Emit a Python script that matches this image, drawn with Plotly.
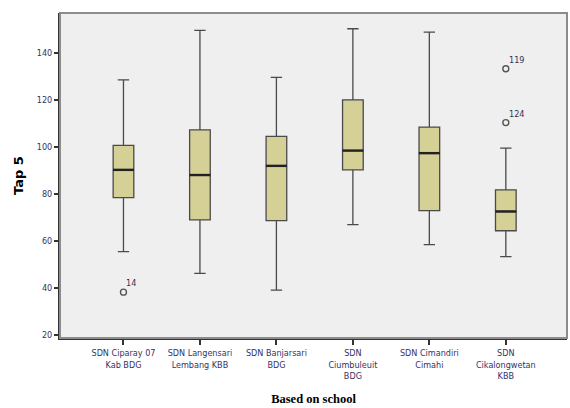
import plotly.graph_objects as go

categories = ["SDN Ciparay 07<br>Kab BDG", "SDN Langensari<br>Lembang KBB", "SDN Banjarsari<br>BDG",
              "SDN<br>Ciumbuleuit<br>BDG", "SDN Cimandiri<br>Cimahi", "SDN<br>Cikalongwetan<br>KBB"]
lower = [55.4, 46.2, 39.1, 66.9, 58.4, 53.3]
q1 = [78.4, 68.9, 68.6, 90.2, 72.9, 64.3]
median = [90.2, 88.0, 91.9, 98.4, 97.3, 72.5]
q3 = [100.6, 107.2, 104.4, 120.0, 108.4, 81.7]
upper = [128.5, 149.5, 129.5, 150.2, 148.8, 99.4]

outlier_cat = [categories[0], categories[5], categories[5]]
outlier_val = [38.2, 133.2, 110.3]
outlier_ids = ["14", "119", "124"]

y_ticks = [20, 40, 60, 80, 100, 120, 140]

tick_font = "Liberation Sans Narrow, Arial Narrow, DejaVu Sans Condensed, sans-serif"

fig = go.Figure()
fig.add_trace(go.Box(
    x=categories, q1=q1, median=median, q3=q3, lowerfence=lower, upperfence=upper,
    fillcolor="#d5d096", line=dict(color="#4a4a4a", width=1.3),
    width=0.27, whiskerwidth=0.55, boxpoints=False, showlegend=False, hoverinfo="skip"))
# thicker median lines
fig.add_trace(go.Scatter(
    x=categories, y=median, mode="markers",
    marker=dict(symbol="line-ew", size=15, line=dict(color="#222222", width=2.4)),
    showlegend=False, hoverinfo="skip"))
# outliers
fig.add_trace(go.Scatter(
    x=outlier_cat, y=outlier_val, mode="markers",
    marker=dict(symbol="circle-open", size=6, color="#555555", line=dict(width=1.4)),
    showlegend=False, hoverinfo="skip"))
for c, v, t in zip(outlier_cat, outlier_val, outlier_ids):
    fig.add_annotation(x=c, y=v, text=t, showarrow=False, xanchor="left", yanchor="bottom",
                       xshift=1, yshift=2, font=dict(size=9, color="#333355", family=tick_font))

fig.add_shape(type="rect", xref="paper", yref="paper", x0=0, x1=1, y0=0, y1=1,
              line=dict(color="#8c8c8c", width=2), layer="above")

fig.update_layout(
    width=570, height=408,
    margin=dict(l=60, r=3, t=13, b=70),
    paper_bgcolor="white", plot_bgcolor="#efefef",
    xaxis=dict(type="category", range=[-0.83, 5.8], showgrid=False, zeroline=False,
               showline=True, linecolor="#333333", linewidth=2,
               ticks="outside", ticklen=5, tickcolor="#333333", tickwidth=1.5,
               tickfont=dict(size=9, color="#333366", family=tick_font),
               title=dict(text="<b>Based on school</b>", standoff=14,
                          font=dict(size=12.5, family="Liberation Serif, Times New Roman, serif", color="black"))),
    yaxis=dict(range=[18.7, 156.9], tickvals=y_ticks, showgrid=False, zeroline=False,
               showline=True, linecolor="#333333", linewidth=2,
               ticks="outside", ticklen=4, tickcolor="#333333", tickwidth=1.5,
               tickfont=dict(size=9, color="#333366", family=tick_font),
               title=dict(text="<b>Tap 5</b>", standoff=10,
                          font=dict(size=13, family="DejaVu Sans, sans-serif", color="black"))),
)

fig.write_html("out.html")
